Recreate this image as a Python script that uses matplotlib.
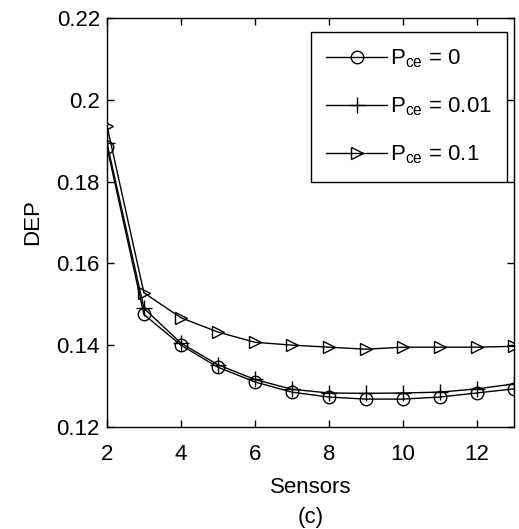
import matplotlib
matplotlib.use("Agg")
import matplotlib.pyplot as plt

# data
sensors = [2, 3, 4, 5, 6, 7, 8, 9, 10, 11, 12, 13]
dep_p0 = [0.1885, 0.1475, 0.1400, 0.1346, 0.1310, 0.1285, 0.1273, 0.1268, 0.1268, 0.1273, 0.1283, 0.1293]
dep_p001 = [0.1895, 0.1490, 0.1405, 0.1352, 0.1316, 0.1292, 0.1283, 0.1282, 0.1283, 0.1285, 0.1293, 0.1305]
dep_p01 = [0.1937, 0.1528, 0.1467, 0.1432, 0.1407, 0.1400, 0.1395, 0.1390, 0.1395, 0.1395, 0.1395, 0.1397]

labels = ["P$_{ce}$ = 0", "P$_{ce}$ = 0.01", "P$_{ce}$ = 0.1"]
xticks = [2, 4, 6, 8, 10, 12]
yticks = [0.12, 0.14, 0.16, 0.18, 0.2, 0.22]
ytick_labels = ["0.12", "0.14", "0.16", "0.18", "0.2", "0.22"]

plt.rcParams["font.family"] = ["Liberation Sans", "DejaVu Sans"]
plt.rcParams["mathtext.fontset"] = "custom"
plt.rcParams["mathtext.rm"] = "Liberation Sans"
plt.rcParams["mathtext.it"] = "Liberation Sans"
fs = 16

fig = plt.figure(figsize=(5.19, 5.29), dpi=100)
ax = fig.add_axes([0.206, 0.193, 0.784, 0.773])

ax.plot(sensors, dep_p0, color="black", lw=1, marker="o", ms=9, mfc="none", mew=1, label=labels[0])
ax.plot(sensors, dep_p001, color="black", lw=1, marker="+", ms=11, mew=1, label=labels[1])
ax.plot(sensors, dep_p01, color="black", lw=1, marker=">", ms=9, mfc="none", mew=1, label=labels[2])

ax.set_xlim(2, 13)
ax.set_ylim(0.12, 0.22)
ax.set_xticks(xticks)
ax.set_yticks(yticks)
ax.set_yticklabels(ytick_labels)
ax.tick_params(direction="in", top=True, right=True, labelsize=fs, length=5, width=1)
ax.tick_params(axis="x", pad=12)
ax.tick_params(axis="y", pad=5)
for s in ax.spines.values():
    s.set_linewidth(1)

ax.set_xlabel("Sensors\n(c)", fontsize=fs, labelpad=9, linespacing=1.55)
ax.set_ylabel("DEP", fontsize=fs, labelpad=10)

leg = ax.legend(loc="upper right", bbox_to_anchor=(0.983, 0.966), borderaxespad=0,
                fontsize=fs, fancybox=False, edgecolor="black", framealpha=1,
                handlelength=2.75, handletextpad=0.1, labelspacing=1.15, borderpad=0.7)
leg.get_frame().set_linewidth(1)

fig.savefig("out.png", dpi=100)
